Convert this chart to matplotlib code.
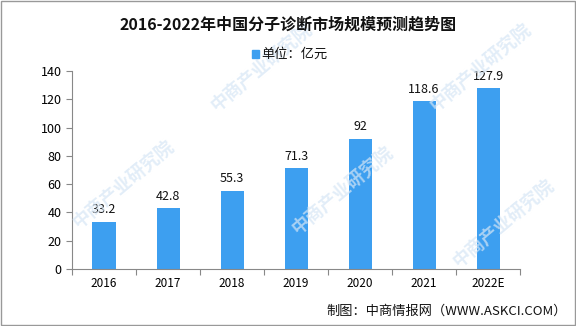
import matplotlib.pyplot as plt
from matplotlib.patches import Rectangle

plt.rcParams['font.family'] = ['Noto Sans CJK SC', 'DejaVu Sans']

years = ["2016", "2017", "2018", "2019", "2020", "2021", "2022E"]
values = [33.2, 42.8, 55.3, 71.3, 92, 118.6, 127.9]
value_labels = ["33.2", "42.8", "55.3", "71.3", "92", "118.6", "127.9"]

bar_color = "#3d9ff0"
axis_color = "#888888"

fig = plt.figure(figsize=(5.76, 3.26), dpi=100)
ax = fig.add_axes([0.125, 0.175, 0.778, 0.607])

# faint diagonal watermark
for wx, wy in [(0.36, 0.66), (0.74, 0.66), (0.12, 0.30), (0.50, 0.28), (0.78, 0.18)]:
    fig.text(wx, wy, "中商产业研究院", fontsize=13, color="#d6e6f5", alpha=0.7,
             rotation=40, fontweight="bold", zorder=0)

x = range(len(years))
ax.bar(x, values, width=0.36, color=bar_color, zorder=2)
for xi, v, lab in zip(x, values, value_labels):
    ax.text(xi, v + 4, lab, ha="center", va="bottom", fontsize=9, color="#111111")

ax.set_xlim(-0.5, len(years) - 0.5)
ax.set_ylim(0, 140)
ax.set_yticks(range(0, 141, 20))
ax.set_xticks([i - 0.5 for i in range(len(years) + 1)], minor=False)
ax.set_xticklabels([])
ax.set_xticks(list(x), minor=True)
ax.set_xticklabels(years, minor=True)
ax.tick_params(axis="x", which="major", length=4, color=axis_color)
ax.tick_params(axis="x", which="minor", length=0, labelsize=8.5, pad=6)
ax.tick_params(axis="y", length=4, color=axis_color, labelsize=9)
for side in ("top", "right"):
    ax.spines[side].set_visible(False)
for side in ("left", "bottom"):
    ax.spines[side].set_color(axis_color)
ax.patch.set_alpha(0)

fig.text(0.5, 0.925, "2016-2022年中国分子诊断市场规模预测趋势图", ha="center", va="center",
         fontsize=11.5, fontweight="bold", color="#111111")
fig.patches.append(Rectangle((0.437, 0.822), 0.013, 0.024, transform=fig.transFigure,
                             color=bar_color))
fig.text(0.453, 0.834, "单位：亿元", ha="left", va="center", fontsize=9.5, color="#111111")
fig.text(0.985, 0.045, "制图：中商情报网（WWW.ASKCI.COM）", ha="right", va="center",
         fontsize=9.5, color="#111111")

fig.patches.append(Rectangle((0.001, 0.002), 0.997, 0.995, transform=fig.transFigure,
                             fill=False, edgecolor="#999999", linewidth=1))

fig.savefig("out.png", dpi=100)
